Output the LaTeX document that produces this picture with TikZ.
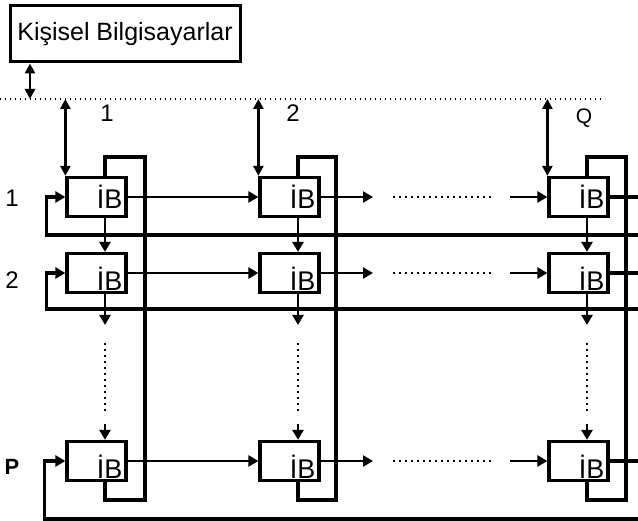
\documentclass[tikz,border=0pt]{standalone}
\usepackage{fontspec}
\setmainfont{Liberation Sans}
\usepackage{tikz}
\usetikzlibrary{arrows.meta,calc}

\begin{document}
\begin{tikzpicture}[
    x=1pt, y=-1pt,
    font=\fontsize{22}{24}\selectfont,
    wire/.style={line width=3.2pt},
    link/.style={
        -{Triangle[length=10pt, width=11pt]}, line width=2.5pt
    },
    biLink/.style={
        {Triangle[length=10pt, width=10pt]}-{Triangle[length=10pt, width=10pt]}, line width=2.6pt
    },
    busLine/.style={line width=1.4pt, dash pattern=on 1.4pt off 3.6pt},
    gapDots/.style={line width=1.6pt, dash pattern=on 1.6pt off 4.4pt},
    pcBox/.style={
        draw, line width=3pt, minimum width=230pt, minimum height=56pt,
        font=\fontsize{25}{27}\selectfont
    },
    ibBox/.style={
        draw, line width=3.2pt, minimum width=59pt, minimum height=39pt,
        text width=52pt, align=right, inner xsep=2pt, inner ysep=1pt,
        font=\fontsize{27}{29}\selectfont, text height=24pt, text depth=0pt
    },
    lowText/.style={text height=35pt},
    rowLabel/.style={font=\fontsize{24}{26}\selectfont}
]
\useasboundingbox (0,0) rectangle (638,521);

% Personal computers and bus
\node[pcBox] (pc) at (125,34) {Kişisel Bilgisayarlar};
\coordinate (busL) at (0,99);
\coordinate (busR) at (605,99);
\draw[busLine] (busL) -- (busR);
\coordinate (pcBus) at (30,99);
\draw[biLink] (pc.south -| pcBus) -- (pcBus);

% Column and row helpers
\coordinate (colA) at (105,0);
\coordinate (colB) at (298,0);
\coordinate (colQ) at (587,0);
\coordinate (wA) at (145,0);
\coordinate (wB) at (336,0);
\coordinate (wQ) at (626,0);
\coordinate (loopTop) at (0,157);
\coordinate (loopBot) at (0,500);
\coordinate (vTop) at (0,325);
\coordinate (vDotS) at (0,343);
\coordinate (vDotE) at (0,415);
\coordinate (vBot) at (0,424);

% Row 1
\node[ibBox] (b1a) at (96.5,197) {İB};
\node[ibBox] (b1b) at (289.5,197) {İB};
\node[ibBox] (b1q) at (578.5,197) {İB};

% Row 2
\node[ibBox, lowText] (b2a) at (96.5,273) {İB};
\node[ibBox, lowText] (b2b) at (289.5,273) {İB};
\node[ibBox, lowText] (b2q) at (578.5,273) {İB};

% Row P
\node[ibBox, lowText] (bpa) at (96.5,461) {İB};
\node[ibBox, lowText] (bpb) at (289.5,461) {İB};
\node[ibBox, lowText] (bpq) at (578.5,461) {İB};

% Labels
\node[rowLabel] (colLab1) at (107,113) {1};
\node[rowLabel] (colLab2) at (293,113) {2};
\node[font=\fontsize{21}{23}\selectfont] (colLabQ) at (584,118) {Q};
\node[rowLabel] (rowLab1) at (12,198) {1};
\node[rowLabel] (rowLab2) at (12,280) {2};
\node[rowLabel, font=\bfseries\fontsize{22}{24}\selectfont] (rowLabP) at (12,467) {P};

% Bus taps
\draw[biLink] (busL -| b1a.north west) -- (b1a.north west);
\draw[biLink] (busL -| b1b.north west) -- (b1b.north west);
\draw[biLink] (busL -| b1q.north west) -- (b1q.north west);

% Row 1 links
\coordinate (g1L) at (373,197);
\coordinate (g1s) at (393,197);
\coordinate (g1e) at (492,197);
\coordinate (g1R) at (510,197);
\coordinate (e1) at (638,197);
\coordinate (w1) at (638,235);
\draw[link] (b1a.east) -- (b1b.west);
\draw[link] (b1b.east) -- (g1L);
\draw[gapDots] (g1s) -- (g1e);
\draw[link] (g1R) -- (b1q.west);
\draw[wire] (b1q.east) -- (e1);
\draw[link, line width=3.2pt] (w1) -| ($(b1a.west)+(-19,0)$) -- (b1a.west);

% Row 2 links
\coordinate (g2L) at (373,273);
\coordinate (g2s) at (393,273);
\coordinate (g2e) at (492,273);
\coordinate (g2R) at (510,273);
\coordinate (e2) at (638,273);
\coordinate (w2) at (638,309);
\draw[link] (b2a.east) -- (b2b.west);
\draw[link] (b2b.east) -- (g2L);
\draw[gapDots] (g2s) -- (g2e);
\draw[link] (g2R) -- (b2q.west);
\draw[wire] (b2q.east) -- (e2);
\draw[link, line width=3.2pt] (w2) -| ($(b2a.west)+(-19,0)$) -- (b2a.west);

% Row P links
\coordinate (gpL) at (373,461);
\coordinate (gps) at (393,461);
\coordinate (gpe) at (492,461);
\coordinate (gpR) at (510,461);
\coordinate (ep) at (638,461);
\coordinate (wp) at (638,519);
\draw[link] (bpa.east) -- (bpb.west);
\draw[link] (bpb.east) -- (gpL);
\draw[gapDots] (gps) -- (gpe);
\draw[link] (gpR) -- (bpq.west);
\draw[wire] (bpq.east) -- (ep);
\draw[link, line width=3.2pt] (wp) -| ($(bpa.west)+(-21,0)$) -- (bpa.west);

% Column links
\draw[link] (b1a.south -| colA) -- (b2a.north -| colA);
\draw[link] (b2a.south -| colA) -- (vTop -| colA);
\draw[gapDots] (vDotS -| colA) -- (vDotE -| colA);
\draw[link] (vBot -| colA) -- (bpa.north -| colA);

\draw[link] (b1b.south -| colB) -- (b2b.north -| colB);
\draw[link] (b2b.south -| colB) -- (vTop -| colB);
\draw[gapDots] (vDotS -| colB) -- (vDotE -| colB);
\draw[link] (vBot -| colB) -- (bpb.north -| colB);

\draw[link] (b1q.south -| colQ) -- (b2q.north -| colQ);
\draw[link] (b2q.south -| colQ) -- (vTop -| colQ);
\draw[gapDots] (vDotS -| colQ) -- (vDotE -| colQ);
\draw[link] (vBot -| colQ) -- (bpq.north -| colQ);

% Column wrap-around
\draw[wire] (bpa.south -| colA) -- (loopBot -| colA) -- (loopBot -| wA)
    -- (loopTop -| wA) -- (loopTop -| colA) -- (b1a.north -| colA);
\draw[wire] (bpb.south -| colB) -- (loopBot -| colB) -- (loopBot -| wB)
    -- (loopTop -| wB) -- (loopTop -| colB) -- (b1b.north -| colB);
\draw[wire] (bpq.south -| colQ) -- (loopBot -| colQ) -- (loopBot -| wQ)
    -- (loopTop -| wQ) -- (loopTop -| colQ) -- (b1q.north -| colQ);

\end{tikzpicture}
\end{document}
